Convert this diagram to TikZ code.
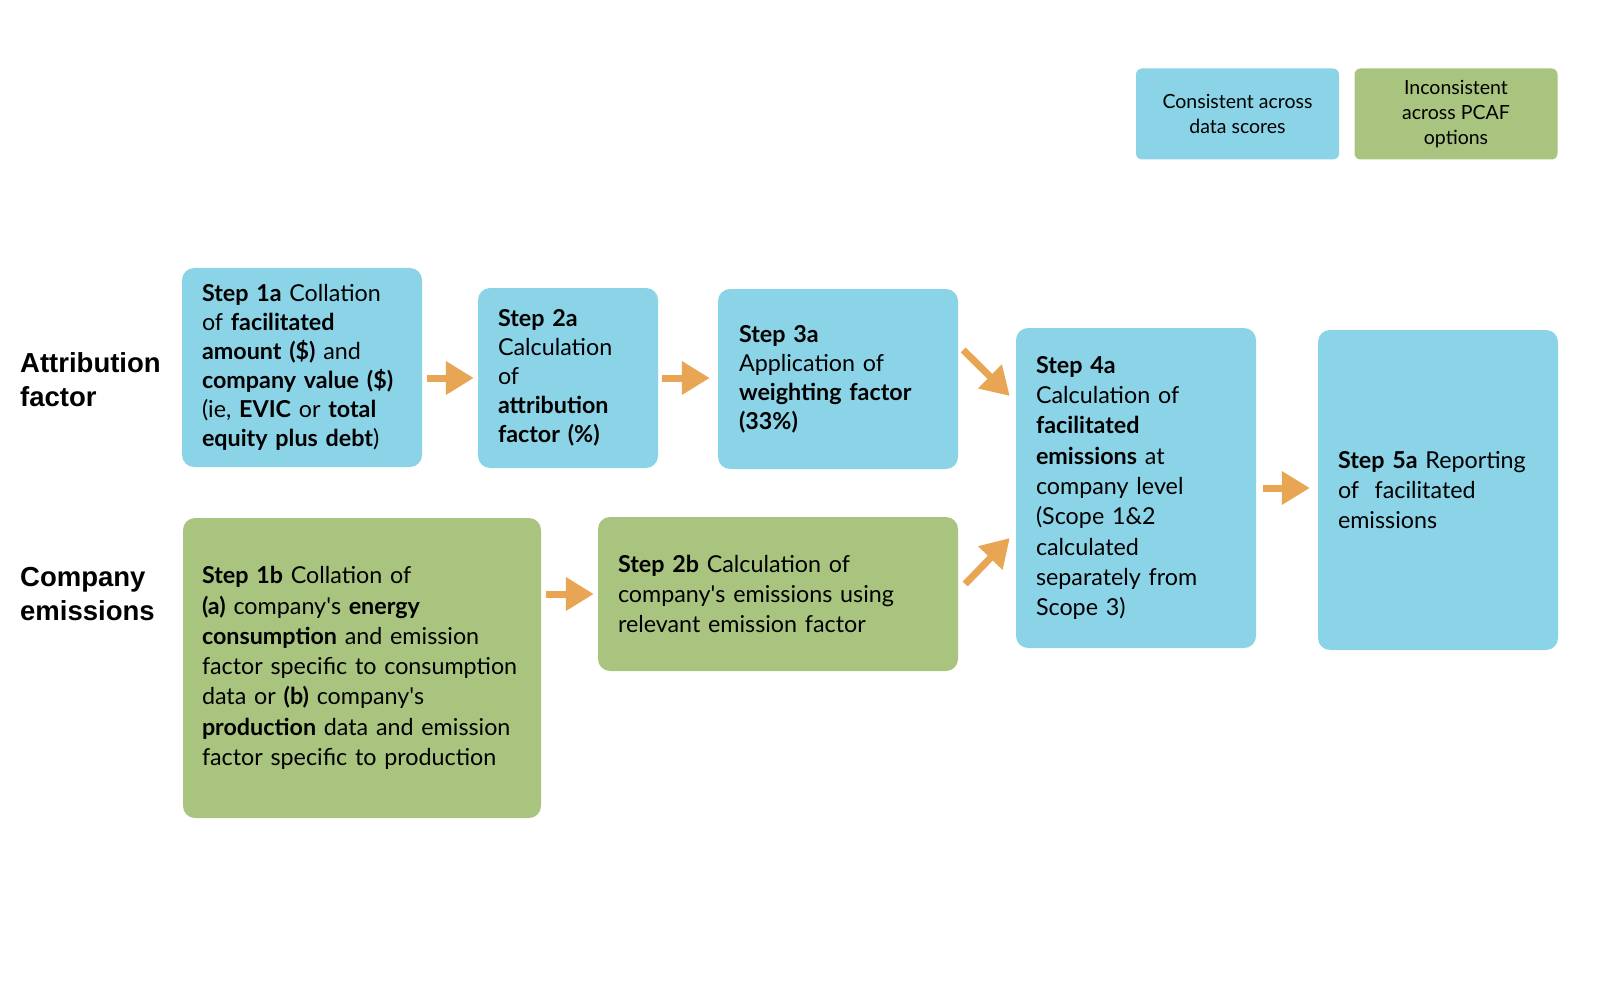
\documentclass[tikz,border=0pt]{standalone}
\usepackage{fontspec}
\setmainfont{Lato}
\newfontfamily\labelfont{Liberation Sans}
\usetikzlibrary{arrows.meta,calc}
\definecolor{boxblue}{RGB}{139,211,230}
\definecolor{boxgreen}{RGB}{169,196,127}
\definecolor{arrorange}{RGB}{232,166,85}
\newcommand{\apos}{\textquotesingle}
\tikzset{
  stepbox/.style={rounded corners=12pt, inner sep=0pt, align=left,
    font=\fontsize{23.3}{30.3}\selectfont, text=black},
  tightbox/.style={font=\fontsize{23.3}{29}\selectfont},
  bluebox/.style={stepbox, fill=boxblue},
  greenbox/.style={stepbox, fill=boxgreen},
  legendbox/.style={rounded corners=6pt, inner sep=0pt, align=center,
    font=\fontsize{19.5}{24.8}\selectfont, minimum width=203pt, minimum height=91pt},
  rowlabel/.style={anchor=west, inner sep=0pt, align=left,
    font=\labelfont\bfseries\fontsize{27.5}{34}\selectfont},
  flow/.style={draw=arrorange, line width=7pt,
    -{Triangle[length=28pt,width=32pt]}}
}
\begin{document}
\begin{tikzpicture}[x=1pt,y=-1pt]
\useasboundingbox (0,0) rectangle (1600,1000);

% legend
\node[legendbox, fill=boxblue] (leg1) at (1237.5,114) {Consistent across\\data scores};
\node[legendbox, fill=boxgreen] (leg2) at (1456,114) {Inconsistent\\across PCAF\\options};

% row labels
\node[rowlabel] (lab1) at (20,380) {Attribution\\factor};
\node[rowlabel] (lab2) at (20,594.5) {Company\\emissions};

% steps
\node[bluebox, tightbox, minimum width=240pt, minimum height=199pt, text width=200pt] (s1a) at (302,367.5)
 {\textbf{Step 1a} Collation\\
  of \textbf{facilitated}\\
  \textbf{amount (\$)} and\\
  \textbf{company value (\$)}\\
  (ie, \textbf{EVIC} or \textbf{total}\\
  \textbf{equity plus debt})};
\node[bluebox, tightbox, minimum width=180pt, minimum height=180pt, text width=140pt] (s2a) at (568,378)
 {\textbf{Step 2a}\\Calculation\\of\\\textbf{attribution}\\\textbf{factor (\%)}};
\node[bluebox, tightbox, minimum width=240pt, minimum height=180pt, text width=198pt] (s3a) at (838,379)
 {\textbf{Step 3a}\\Application of\\\textbf{weighting factor}\\\textbf{(33\%)}};
\node[bluebox, minimum width=240pt, minimum height=320pt, text width=200pt] (s4a) at (1136,488)
 {\textbf{Step 4a}\\Calculation of\\\textbf{facilitated}\\\textbf{emissions} at\\company level\\(Scope 1\&2\\calculated\\separately from\\Scope 3)};
\node[bluebox, minimum width=240pt, minimum height=320pt, text width=200pt] (s5a) at (1438,490)
 {\textbf{Step 5a} Reporting\\of\ \ facilitated\\emissions};
\node[greenbox, minimum width=358pt, minimum height=300pt, text width=320pt] (s1b) at (362,668)
 {\textbf{Step 1b} Collation of\\
  \textbf{(a)} company\apos s \textbf{energy}\\
  \textbf{consumption} and emission\\
  factor specific to consumption\\
  data or \textbf{(b)} company\apos s\\
  \textbf{production} data and emission\\
  factor specific to production};
\node[greenbox, minimum width=360pt, minimum height=154pt, text width=320pt] (s2b) at (778,594)
 {\textbf{Step 2b} Calculation of\\company\apos s emissions using\\relevant emission factor};

% connectors
\draw[flow, shorten <=5pt, shorten >=4pt] (s1a.east |- s2a.west) -- (s2a.west);
\draw[flow, shorten <=4pt, shorten >=8pt] (s2a.east) -- (s2a.east -| s3a.west);
\draw[flow] ($(s3a.east)+(5,-29)$) -- ($(s4a.west)+(-6,-92)$);
\draw[flow] ($(s2b.east)+(7,-10)$) -- ($(s4a.west)+(-6,50)$);
\draw[flow, shorten <=7pt, shorten >=8pt] (s4a.east) -- (s4a.east -| s5a.west);
\draw[flow, shorten <=5pt, shorten >=4pt] (s1b.east |- s2b.west) -- (s2b.west);
\end{tikzpicture}
\end{document}
